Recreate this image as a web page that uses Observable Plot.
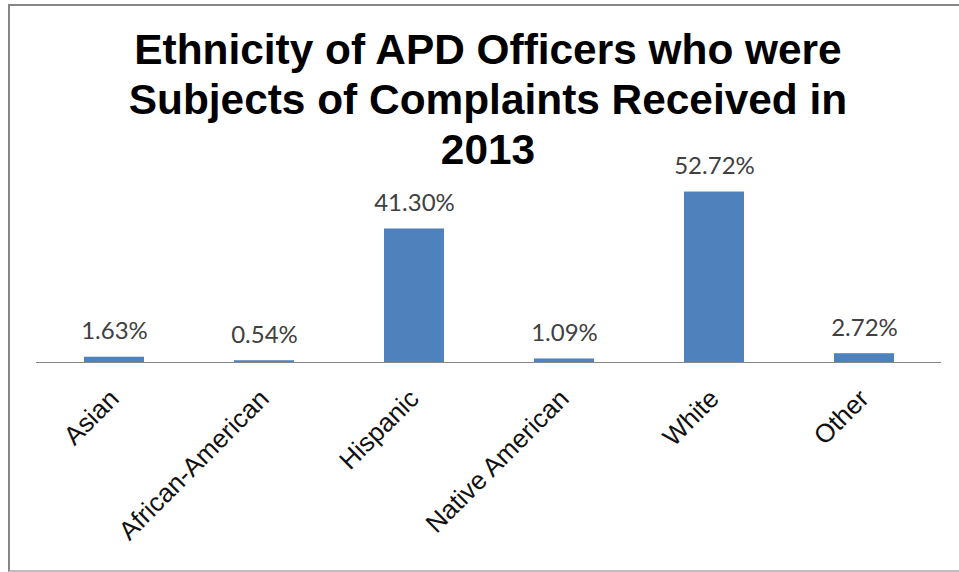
<!DOCTYPE html>
<html>
<head>
<meta charset="utf-8">
<script src="https://cdn.jsdelivr.net/npm/d3@7"></script>
<script src="https://cdn.jsdelivr.net/npm/@observablehq/plot@0.6"></script>
<style>
  html, body { margin: 0; padding: 0; background: #fff; }
  #wrap { position: relative; width: 959px; height: 572px; overflow: hidden; background: #fff; }
  #chart { position: absolute; left: 0; top: 0; }
  #frame { position: absolute; left: 8px; top: 4px; width: 970px; height: 568px; box-sizing: border-box;
           border-left: 2px solid #868686; border-top: 2px solid #868686; border-bottom: 2px solid #bdbdbd; pointer-events: none; }
  #title { position: absolute; left: 8px; top: 25px; width: 960px; text-align: center;
           font-family: "Liberation Sans", Arial, sans-serif; font-weight: bold; font-size: 42.4px; line-height: 50px; color: #000; }
</style>
</head>
<body>
<div id="wrap">
  <div id="chart"></div>
  <div id="frame"></div>
  <div id="title"></div>
</div>
<script>
const titleLines = ["Ethnicity of APD Officers who were", "Subjects of Complaints Received in", "2013"];
const categories = ["Asian", "African-American", "Hispanic", "Native American", "White", "Other"];
const percents = [1.63, 0.54, 41.30, 1.09, 52.72, 2.72];

document.getElementById("title").innerHTML = titleLines.map(t => `<div>${t}</div>`).join("");

const data = categories.map((c, i) => ({category: c, value: percents[i]}));

const chart = Plot.plot({
  width: 959,
  height: 572,
  marginLeft: 36,
  marginRight: 18,
  marginTop: 168,
  marginBottom: 210,
  style: {background: "transparent", fontFamily: "'Liberation Sans', Arial, sans-serif", fontSize: "26px", color: "#111"},
  x: {domain: categories, paddingInner: 0.6, paddingOuter: 0.3, axis: "bottom", tickSize: 0, tickPadding: 32, tickRotate: -45, label: null},
  y: {domain: [0, 60], axis: null},
  marks: [
    Plot.barY(data, {x: "category", y: "value", fill: "#4F81BD"}),
    Plot.ruleY([0], {stroke: "#868686", strokeWidth: 1.2}),
    Plot.text(data, {x: "category", y: "value", text: d => d.value.toFixed(2) + "%", dy: -18, lineAnchor: "bottom",
      fontSize: 24, fontFamily: "Lato, 'Open Sans', sans-serif", fill: "#404040"})
  ]
});
document.getElementById("chart").appendChild(chart);
</script>
</body>
</html>
